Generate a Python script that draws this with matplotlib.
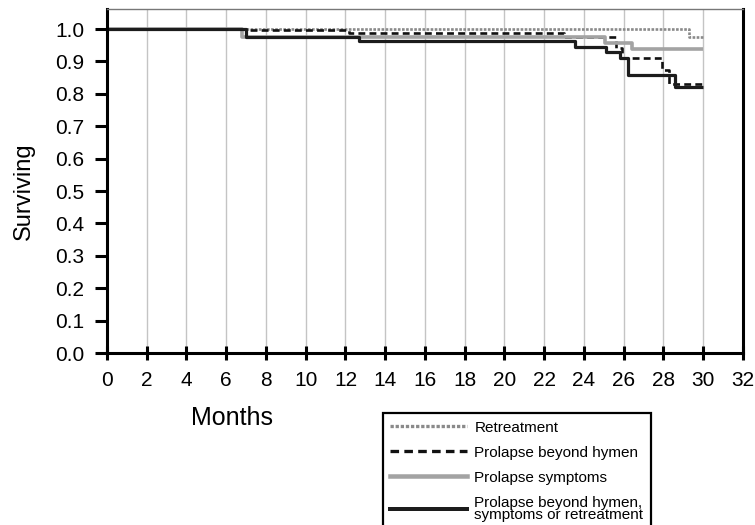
import matplotlib
matplotlib.use('Agg')
import matplotlib.pyplot as plt
from matplotlib.lines import Line2D

plt.rcParams['font.family'] = ['Liberation Sans', 'DejaVu Sans']

# Kaplan-Meier steps (months, surviving fraction)
retreat_t = [0, 29.3, 30]
retreat_s = [1.0, 0.975, 0.975]

hymen_t = [0, 7.0, 12.2, 23.0, 25.6, 25.9, 27.9, 28.3, 30]
hymen_s = [1.0, 0.996, 0.989, 0.975, 0.94, 0.909, 0.875, 0.83, 0.83]

symptoms_t = [0, 6.8, 25.05, 26.4, 30]
symptoms_s = [1.0, 0.975, 0.958, 0.939, 0.939]

any_t = [0, 7.0, 12.7, 23.55, 25.1, 25.8, 26.2, 28.6, 30]
any_s = [1.0, 0.975, 0.964, 0.946, 0.928, 0.912, 0.858, 0.82, 0.82]

labels = ['Retreatment', 'Prolapse beyond hymen', 'Prolapse symptoms',
          'Prolapse beyond hymen,\nsymptoms or retreatment']

x_ticks = list(range(0, 33, 2))
y_ticks = [i / 10 for i in range(11)]

fig = plt.figure(figsize=(7.55, 5.25), dpi=100)
ax = fig.add_axes([0.1417, 0.3276, 0.8424, 0.6554])

# vertical grid
for xv in x_ticks[1:-1]:
    ax.axvline(xv, color='#c4c4c4', lw=1, zorder=0)

styles = [
    dict(color='#8a8a8a', lw=1.9, dashes=(1.0, 0.55)),
    dict(color='#111111', lw=1.9, dashes=(2.6, 1.6)),
    dict(color='#a3a3a3', lw=2.6),
    dict(color='#1c1c1c', lw=2.3),
]

series = [(retreat_t, retreat_s), (hymen_t, hymen_s),
          (symptoms_t, symptoms_s), (any_t, any_s)]
for (t, s), st in zip(series, styles):
    ax.step(t, s, where='post', solid_capstyle='butt', dash_capstyle='butt', **st)

ax.set_xlim(0, 32)
ax.set_ylim(0, 1.062)
ax.set_xticks(x_ticks)
ax.set_yticks(y_ticks)
ax.set_yticklabels([f'{v:.1f}' for v in y_ticks])

for side in ['left', 'bottom', 'right']:
    ax.spines[side].set_linewidth(2.2)
    ax.spines[side].set_color('black')
ax.spines['top'].set_linewidth(1.0)
ax.spines['top'].set_color('#777777')

ax.tick_params(axis='x', direction='inout', length=10, width=2.2,
               labelsize=15, pad=8)
ax.tick_params(axis='y', direction='out', length=8.5, width=2.2,
               labelsize=15, pad=8)

ax.set_xlabel('Months', fontsize=18)
ax.xaxis.set_label_coords(0.197, -0.155)
ax.set_ylabel('Surviving', fontsize=17)
ax.yaxis.set_label_coords(-0.113, 0.47)

# legend handles a little heavier than the curves, as in the original
leg_styles = [dict(st, lw=st['lw'] * 1.25) for st in styles]
handles = [Line2D([], [], **st) for st in leg_styles]
leg = fig.legend(handles, labels, loc='upper left',
                 bbox_to_anchor=(0.507, 0.213), borderaxespad=0,
                 fontsize=11, handlelength=5.0, handletextpad=0.5,
                 labelspacing=0.72, borderpad=0.5, fancybox=False,
                 framealpha=1, edgecolor='black')
leg.get_frame().set_linewidth(1.6)
leg.get_texts()[3].set_linespacing(0.85)

fig.savefig('out.png', dpi=100)
